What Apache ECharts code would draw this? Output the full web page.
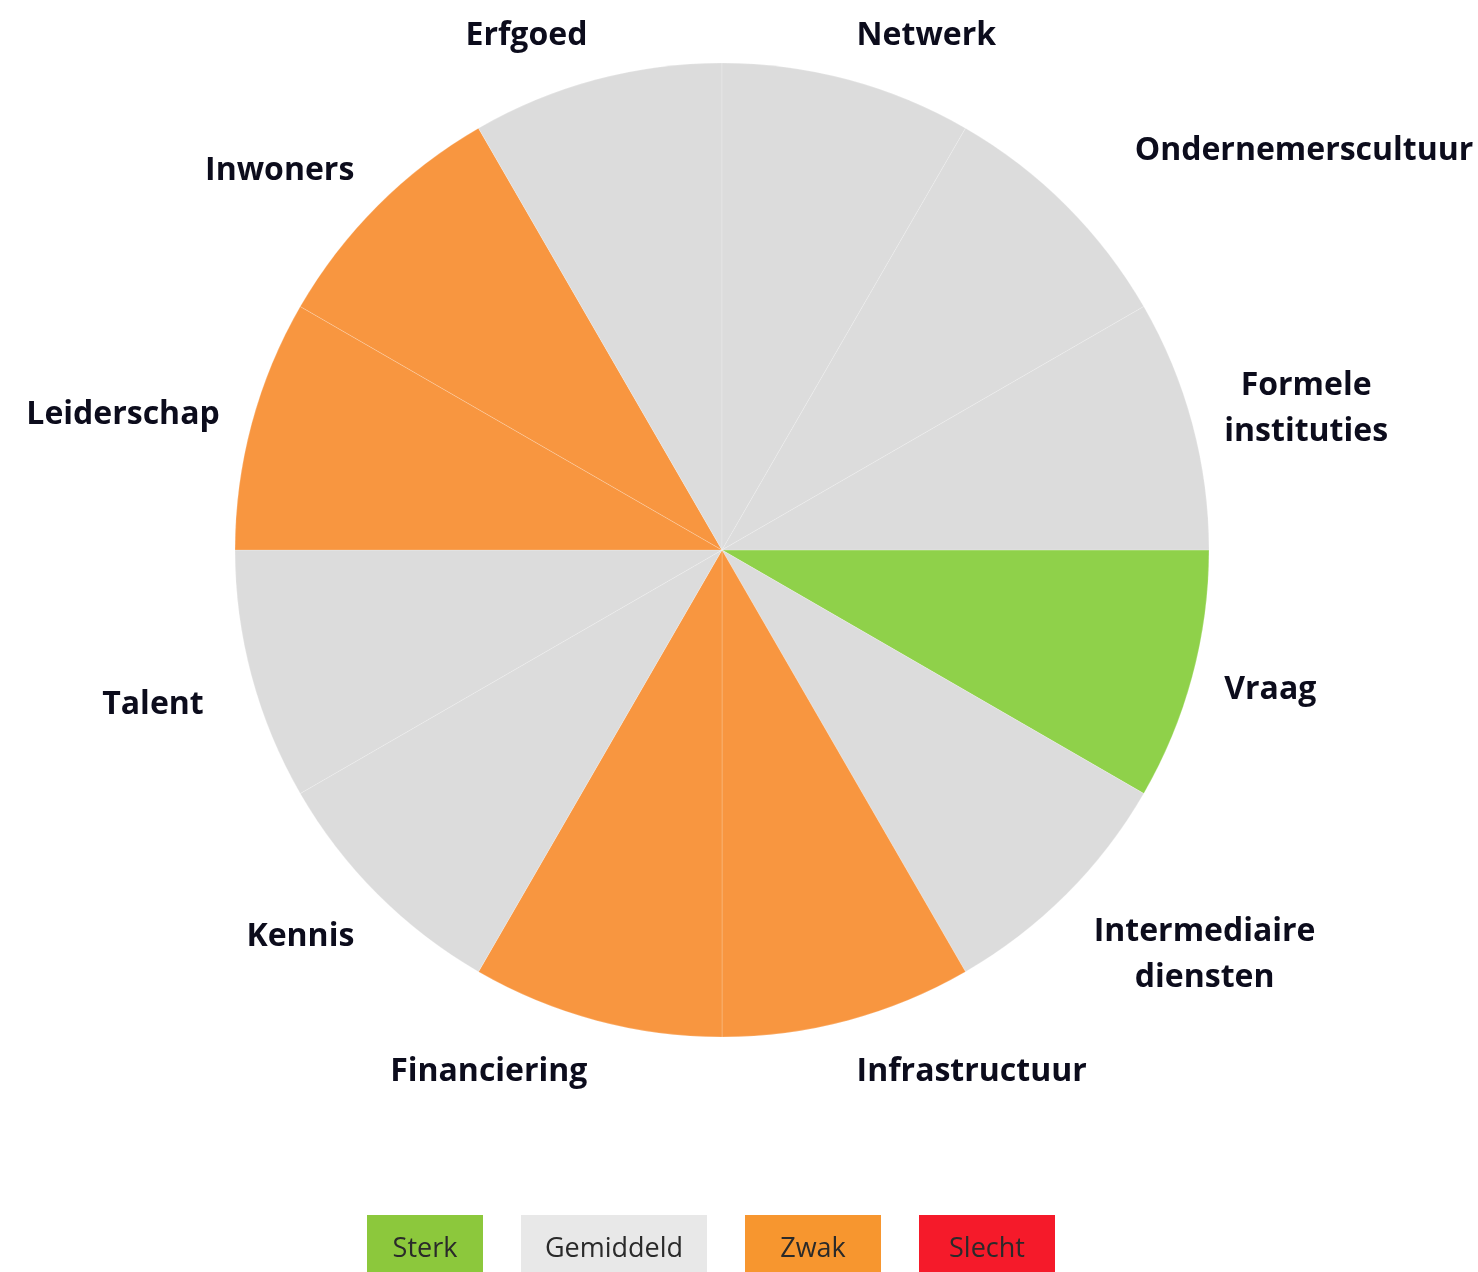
<!DOCTYPE html>
<html><head><meta charset="utf-8">
<script src="https://cdn.jsdelivr.net/npm/echarts@6/dist/echarts.min.js"></script>
<style>html,body{margin:0;padding:0;background:#fff}#c{width:1478px;height:1272px}</style>
</head><body><div id="c"></div>
<script>
// ---- data ----
var categories = ['Vraag','Intermediaire\ndiensten','Infrastructuur','Financiering','Kennis','Talent','Leiderschap','Inwoners','Erfgoed','Netwerk','Ondernemerscultuur','Formele\ninstituties'];
var values = [1,1,1,1,1,1,1,1,1,1,1,1];
var ratings = ['Sterk','Gemiddeld','Zwak','Zwak','Gemiddeld','Gemiddeld','Zwak','Zwak','Gemiddeld','Gemiddeld','Gemiddeld','Gemiddeld'];
var legendLabels = ['Sterk','Gemiddeld','Zwak','Slecht'];

// ---- styles ----
var ratingColors = {Sterk:'#8fd14a', Gemiddeld:'#dcdcdc', Zwak:'#f89640', Slecht:'#f5142a'};
var legendBoxColors = {Sterk:'#8cc83c', Gemiddeld:'#e8e8e8', Zwak:'#f7962f', Slecht:'#f51a2a'};
var legendBoxWidths = [116,186,136,136];
// manual label nudges (as in the original, where some labels were dragged)
var labelNudgeX = [0,4,0,0,0,-16,0,0,0,0,45,0];
var labelNudgeY = [-3,6,0,0,4,12,0,-4,0,0,-24,0];
var CX = 722, CY = 550, R = 487, LABEL_R = 520, FS = 32, LH = 46, BASE_DY = 4;

var total = values.reduce(function(a,b){return a+b;},0);
var mids = [], cum = 0;
values.forEach(function(v){ mids.push((cum + v/2)/total*2*Math.PI); cum += v; });

var pieData = categories.map(function(c,i){
  return {name:c, value:values[i], itemStyle:{color:ratingColors[ratings[i]]}};
});

var graphics = [];
var gx = 367, gap = 38;
legendLabels.forEach(function(l,i){
  var w = legendBoxWidths[i];
  graphics.push({type:'rect', left:gx, top:1215, shape:{width:w, height:60}, style:{fill:legendBoxColors[l]}});
  graphics.push({type:'text', x:gx + w/2, y:1249, style:{text:l, fill:'#2a2a2a', font:'27px "Open Sans"', textAlign:'center', textVerticalAlign:'middle'}});
  gx += w + gap;
});

var chart = echarts.init(document.getElementById('c'));
chart.setOption({
  backgroundColor:'#ffffff',
  animation:false,
  series:[{
    type:'pie',
    center:[CX,CY],
    radius:[0,R],
    startAngle:0,
    clockwise:true,
    avoidLabelOverlap:false,
    data:pieData,
    itemStyle:{borderColor:'rgba(255,255,255,0.2)', borderWidth:1},
    label:{show:true, position:'outside', color:'#0c0c1c', fontFamily:'"Open Sans"', fontWeight:'bold', fontSize:FS, lineHeight:LH, align:'center'},
    labelLine:{show:false},
    emphasis:{disabled:true}
  }],
  graphic:graphics
});
chart.setOption({
  series:[{
    labelLayout:function(p){
      var i = p.dataIndex;
      var a = mids[i];
      var dx = Math.cos(a), dy = Math.sin(a);
      var ax = CX + dx*LABEL_R, ay = CY + dy*LABEL_R;
      var w = p.labelRect.width, h = p.labelRect.height - LH + FS;
      return {x: ax + (dx >= 0 ? 1 : -1)*w/2 + labelNudgeX[i], y: ay + dy*h/2 + BASE_DY + labelNudgeY[i], align:'center', verticalAlign:'middle'};
    }
  }]
});
</script>
</body></html>
